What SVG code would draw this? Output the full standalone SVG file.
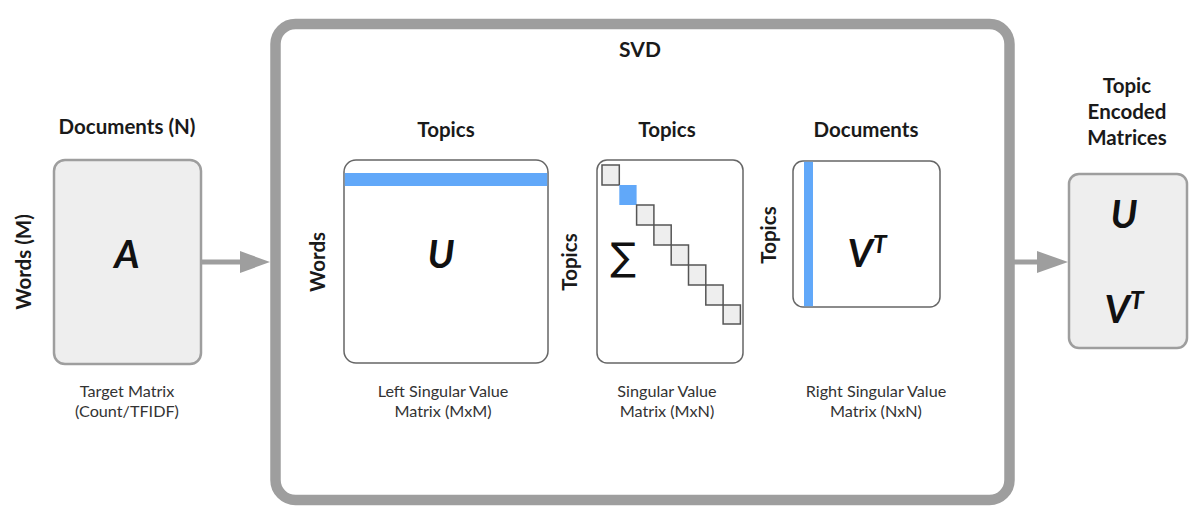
<svg xmlns="http://www.w3.org/2000/svg" width="1193" height="511" viewBox="0 0 1193 511">
<defs>
<style>
.title{font-family:Lato,"Liberation Sans",sans-serif;font-weight:bold;font-size:20.5px;fill:#1a1a1a;text-anchor:middle}
.cap{font-family:Lato,"Liberation Sans",sans-serif;font-size:16.2px;fill:#333;text-anchor:middle}
.sym{font-family:Lato,"Liberation Sans",sans-serif;font-weight:bold;font-style:italic;font-size:39px;fill:#111;text-anchor:middle}
.sup{font-size:25px}
.gbox{fill:#eeeeee;stroke:#9e9e9e;stroke-width:2.5}
.mat{fill:#fff;stroke:#666;stroke-width:1.5}
.sq{fill:#eeeeee;stroke:#555;stroke-width:1.5}
.blue{fill:#61a8f9}
.conn{stroke:#9e9e9e;stroke-width:5;fill:none}
.head{fill:#9e9e9e}
</style>
</defs>
<rect width="1193" height="511" fill="#fff"/>

<g id="input">
<text class="title" x="127" y="134">Documents (N)</text>
<text class="title" transform="translate(31,262) rotate(-90)">Words (M)</text>
<rect class="gbox" x="54" y="160" width="147" height="204" rx="11"/>
<text class="sym" x="127" y="268">A</text>
<text class="cap" x="127" y="397">Target Matrix</text>
<text class="cap" x="127" y="417">(Count/TFIDF)</text>
</g>

<g id="svd">
<rect x="275.5" y="24" width="734" height="476" rx="20" fill="#fff" stroke="#9e9e9e" stroke-width="10.5"/>
<text class="title" x="640" y="57" style="font-size:21px">SVD</text>
</g>

<g id="u-matrix">
<text class="title" x="446" y="137">Topics</text>
<text class="title" transform="translate(325,262) rotate(-90)">Words</text>
<rect class="mat" x="344" y="160" width="204" height="203" rx="12"/>
<rect class="blue" x="344.8" y="173" width="202.4" height="13"/>
<text class="sym" x="441" y="268">U</text>
<text class="cap" x="443" y="397">Left Singular Value</text>
<text class="cap" x="443" y="417">Matrix (MxM)</text>
</g>

<g id="sigma-matrix">
<text class="title" x="667" y="137">Topics</text>
<text class="title" transform="translate(577,262) rotate(-90)">Topics</text>
<rect class="mat" x="597" y="160" width="146" height="203" rx="10"/>
<rect class="sq" x="602" y="165" width="17.3" height="20"/>
<rect class="blue" x="619.3" y="185" width="17.3" height="20"/>
<rect class="sq" x="636.6" y="205" width="17.3" height="20"/>
<rect class="sq" x="653.9" y="225" width="17.3" height="20"/>
<rect class="sq" x="671.2" y="245" width="17.3" height="20"/>
<rect class="sq" x="688.5" y="265" width="17.3" height="20"/>
<rect class="sq" x="705.8" y="285" width="17.3" height="20"/>
<rect class="sq" x="723.1" y="305" width="17.3" height="19"/>
<text x="623" y="270" font-family="DejaVu Sans,sans-serif" font-size="38" fill="#111" text-anchor="middle">∑</text>
<text class="cap" x="667" y="397">Singular Value</text>
<text class="cap" x="667" y="417">Matrix (MxN)</text>
</g>

<g id="vt-matrix">
<text class="title" x="866" y="137">Documents</text>
<text class="title" transform="translate(776,235) rotate(-90)">Topics</text>
<rect class="mat" x="793" y="161" width="147" height="146" rx="10"/>
<rect class="blue" x="804" y="161.8" width="9" height="144.4"/>
<text class="sym" x="867" y="267">V<tspan class="sup" dy="-14">T</tspan></text>
<text class="cap" x="876" y="397">Right Singular Value</text>
<text class="cap" x="876" y="417">Matrix (NxN)</text>
</g>

<g id="output">
<text class="title" x="1127" y="93">Topic</text>
<text class="title" x="1127" y="119">Encoded</text>
<text class="title" x="1127" y="145">Matrices</text>
<rect class="gbox" x="1069" y="174" width="118" height="174" rx="10"/>
<text class="sym" x="1124" y="228">U</text>
<text class="sym" x="1124" y="323">V<tspan class="sup" dy="-14">T</tspan></text>
</g>

<g id="connectors">
<line class="conn" x1="201" y1="262" x2="242" y2="262"/>
<polygon class="head" points="240,251 270,262 240,273"/>
<line class="conn" x1="1014" y1="262" x2="1039" y2="262"/>
<polygon class="head" points="1037,251 1068,262 1037,273"/>
</g>
</svg>
